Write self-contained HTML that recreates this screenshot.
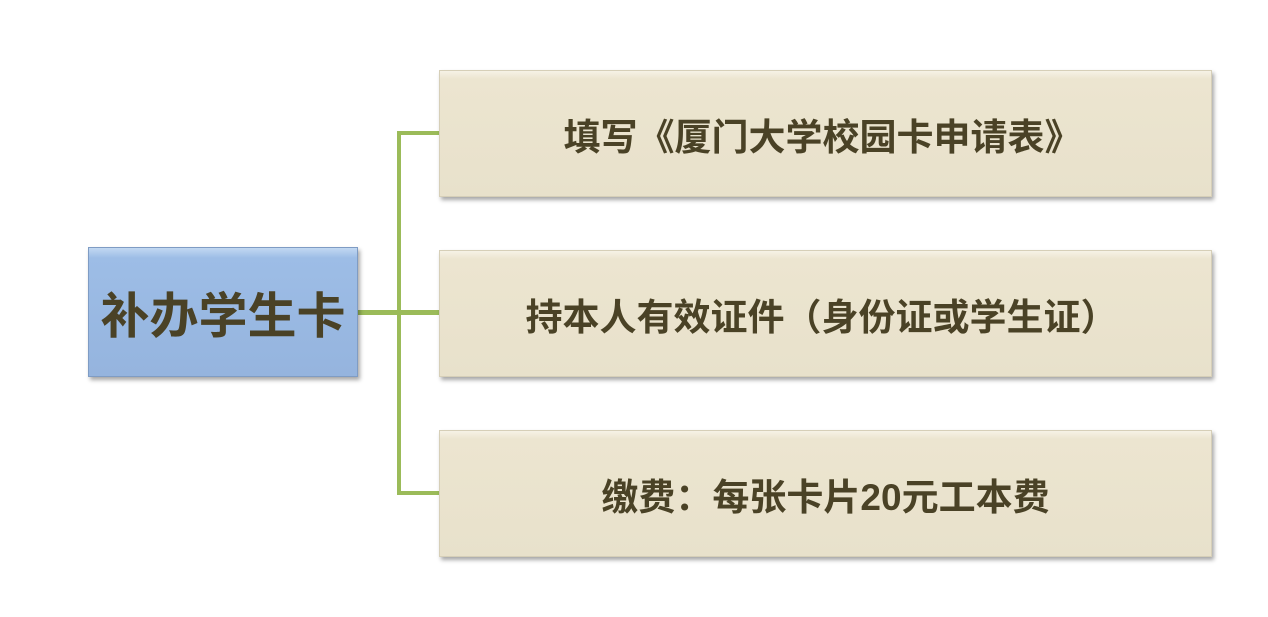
<!DOCTYPE html>
<html><head><meta charset="utf-8"><style>
body{margin:0;width:1268px;height:617px;background:#fff;position:relative;overflow:hidden;font-family:"Liberation Sans","Noto Sans CJK SC",sans-serif;}
.b{position:absolute;box-sizing:border-box;display:flex;align-items:center;justify-content:center;font-weight:bold;color:#4a4226;box-shadow:2px 3px 4px rgba(0,0,0,0.35);}
.t{left:439px;width:773px;height:127px;background:linear-gradient(#f6f2e6 0,#ece5d0 8px,#e8e1cb 100%);border:1px solid #d6cfb8;font-size:37px;}
.l{position:absolute;background:#9bbb59;}
</style></head><body>
<div class="l" style="left:397px;top:131px;width:4px;height:364px"></div>
<div class="l" style="left:357px;top:310px;width:82px;height:5px"></div>
<div class="l" style="left:397px;top:131px;width:42px;height:4px"></div>
<div class="l" style="left:397px;top:491px;width:42px;height:4px"></div>
<div class="b" style="left:88px;top:247px;width:270px;height:130px;background:linear-gradient(#c2d8f2 0,#9dbde6 10px,#95b4de 100%);border:1px solid #7f9cc4;font-size:49px;">补办学生卡</div>
<div class="b t" style="top:70px;padding-right:6px">填写《厦门大学校园卡申请表》</div>
<div class="b t" style="top:250px;padding-right:8px">持本人有效证件（身份证或学生证）</div>
<div class="b t" style="top:430px">缴费：每张卡片20元工本费</div>
</body></html>
